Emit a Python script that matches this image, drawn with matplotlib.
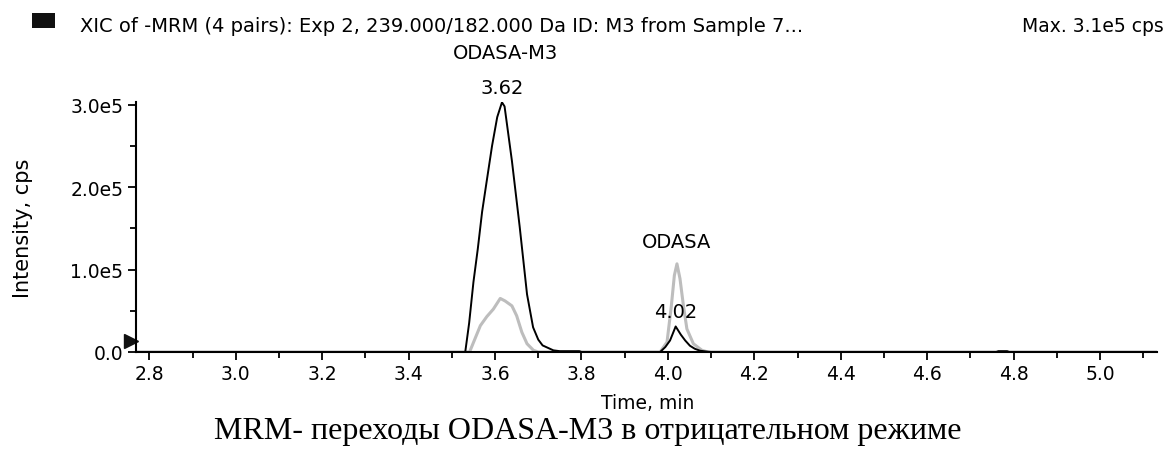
import numpy as np
import matplotlib.pyplot as plt
from matplotlib.patches import Rectangle
from matplotlib.ticker import MultipleLocator, FuncFormatter

# XIC trace 239.000/182.000 (M3) - black
t_black = [2.77, 3.531, 3.540, 3.550, 3.560, 3.570, 3.580, 3.593, 3.605, 3.616, 3.622,
           3.639, 3.657, 3.674, 3.688, 3.700, 3.710, 3.735, 3.750, 3.795, 3.800,
           3.982, 3.994, 4.005, 4.018, 4.030, 4.040, 4.051, 4.062, 4.074, 4.090, 4.100,
           4.760, 4.765, 4.785, 4.790, 5.13]
i_black = [0, 0, 0.35, 0.85, 1.25, 1.70, 2.05, 2.50, 2.85, 3.03, 2.98,
           2.32, 1.52, 0.70, 0.30, 0.15, 0.08, 0.02, 0.01, 0.01, 0,
           0, 0.06, 0.14, 0.31, 0.21, 0.14, 0.076, 0.04, 0.016, 0.005, 0,
           0, 0.01, 0.01, 0, 0]

# second transition (ODASA) - gray
t_gray = [2.77, 3.541, 3.566, 3.581, 3.596, 3.612, 3.623, 3.639, 3.650, 3.662, 3.674, 3.689, 3.700,
          3.982, 3.998, 4.008, 4.015, 4.021, 4.028, 4.036, 4.044, 4.059, 4.079, 4.093, 5.13]
i_gray = [0, 0, 0.32, 0.43, 0.52, 0.65, 0.62, 0.56, 0.44, 0.24, 0.10, 0.02, 0,
          0, 0.12, 0.56, 0.93, 1.07, 0.89, 0.56, 0.28, 0.10, 0.02, 0, 0]

# (label, x, y, offset in points)
rt_labels = [("3.62", 3.616, 3.03, 4), ("4.02", 4.018, 0.31, 4)]
name_labels = [("ODASA-M3", 3.625, 3.03, 29), ("ODASA", 4.021, 1.07, 9)]

title_txt = "XIC of -MRM (4 pairs): Exp 2, 239.000/182.000 Da ID: M3 from Sample 7..."
max_txt = "Max. 3.1e5 cps"
caption = "MRM- переходы ODASA-M3 в отрицательном режиме"

sc = 1e5
W, H = 1169, 452
fig = plt.figure(figsize=(W / 100, H / 100), dpi=100)
ax = fig.add_axes([136 / W, 1 - 353 / H, 1021 / W, 249.7 / H])

ax.plot(t_gray, np.array(i_gray) * sc, color="#bdbdbd", lw=2.2)
ax.plot(t_black, np.array(i_black) * sc, color="black", lw=1.4)

ax.set_xlim(2.769, 5.132)
ax.set_ylim(0, 3.03e5)
ax.spines["top"].set_visible(False)
ax.spines["right"].set_visible(False)
ax.spines["left"].set_linewidth(1.5)
ax.spines["bottom"].set_linewidth(1.5)

ax.xaxis.set_major_locator(MultipleLocator(0.2))
ax.xaxis.set_minor_locator(MultipleLocator(0.1))
ax.yaxis.set_major_locator(MultipleLocator(1e5))
ax.yaxis.set_minor_locator(MultipleLocator(0.5e5))
ax.yaxis.set_major_formatter(FuncFormatter(lambda v, p: f"{v / 1e5:.1f}e5" if v > 0 else "0.0"))
ax.xaxis.set_major_formatter(FuncFormatter(lambda v, p: f"{v:.1f}"))
ax.tick_params(which="major", length=6, width=1.3, labelsize=13.5, pad=3)
ax.tick_params(which="minor", length=4, width=1.3)

fig.text(648 / W, 1 - 404 / H, "Time, min", fontsize=13.5, ha="center", va="center")
fig.text(23 / W, 1 - 228 / H, "Intensity, cps", fontsize=15, rotation=90, ha="center", va="center")

# threshold marker
ax.plot([2.757], [0.13e5], marker=">", color="#111111", ms=10, clip_on=False)

for txt, x, y, off in rt_labels + name_labels:
    ax.annotate(txt, (x, y * sc), xytext=(0, off), textcoords="offset points",
                ha="center", va="bottom", fontsize=14)

fig.patches.append(Rectangle((32 / W, 1 - 29 / H), 23 / W, 15 / H, transform=fig.transFigure,
                             facecolor="#111111", edgecolor="none"))
fig.text(80 / W, 1 - 26 / H, title_txt, fontsize=14, va="center", ha="left")
fig.text(1164 / W, 1 - 26 / H, max_txt, fontsize=13.5, va="center", ha="right")
fig.text(588 / W, 1 - 432 / H, caption, fontsize=23, va="center", ha="center",
         family="Liberation Serif")

fig.savefig("out.png", dpi=100)
